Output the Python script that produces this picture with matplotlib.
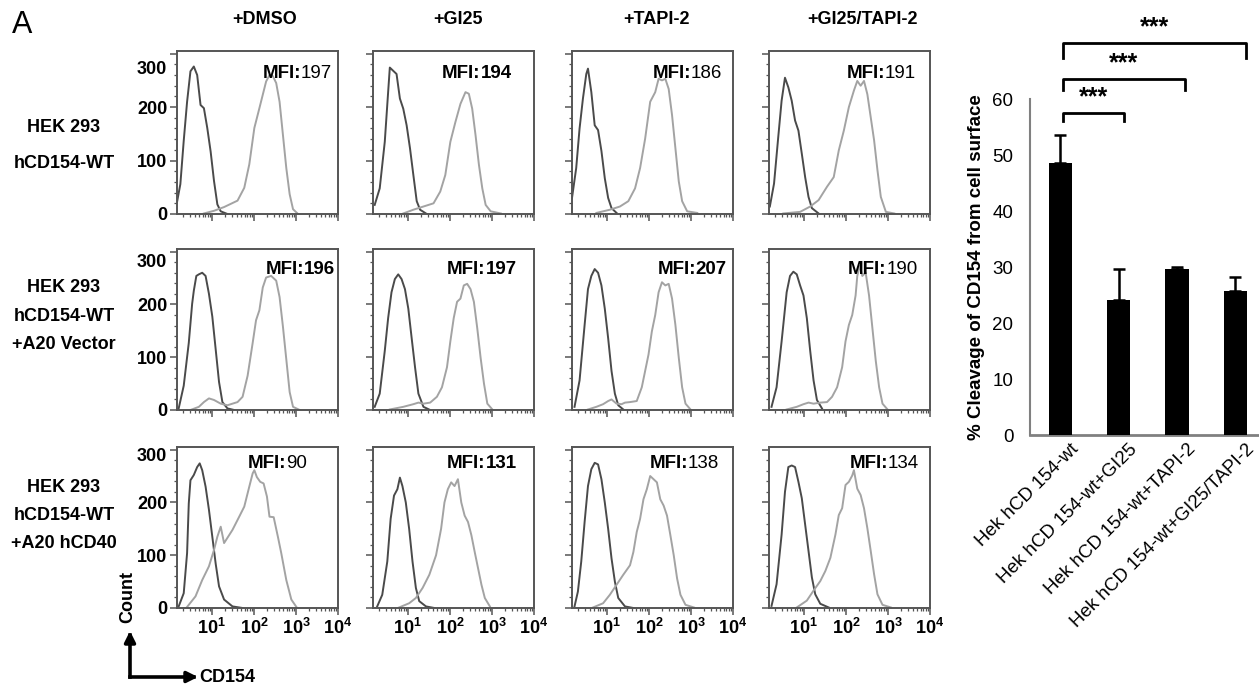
import numpy as np
import matplotlib
matplotlib.use('Agg')
import matplotlib.pyplot as plt
from matplotlib.transforms import ScaledTranslation
from matplotlib.patches import FancyArrowPatch
from matplotlib.lines import Line2D

plt.rcParams['font.family'] = ['Liberation Sans', 'DejaVu Sans']
plt.rcParams['mathtext.fontset'] = 'custom'
plt.rcParams['mathtext.rm'] = 'Liberation Sans:bold'
plt.rcParams['mathtext.it'] = 'Liberation Sans:bold'
plt.rcParams['mathtext.bf'] = 'Liberation Sans:bold'

# ---------------- data ----------------
conditions = ['+DMSO', '+GI25', '+TAPI-2', '+GI25/TAPI-2']
row_labels = [['HEK 293', 'hCD154-WT'],
              ['HEK 293', 'hCD154-WT', '+A20 Vector'],
              ['HEK 293', 'hCD154-WT', '+A20 hCD40']]
mfi_values = [[197, 194, 186, 191],
              [196, 197, 207, 190],
              [90, 131, 138, 134]]
mfi_bold_number = [[False, True, False, False],
                   [True, True, True, False],
                   [False, True, False, False]]
count_ticks = [0, 100, 200, 300]
decade_ticks = [1, 2, 3, 4]

# histograms: (log10 CD154 intensity, count); ctrl = dark curve, stain = light curve
r1_dmso_ctrl = [(0.17, 22), (0.25, 56), (0.33, 137), (0.41, 210), (0.49, 267), (0.57, 276), (0.65, 260), (0.73, 204), (0.81, 198), (0.89, 161), (0.97, 117), (1.05, 62), (1.13, 18), (1.21, 5), (1.37, 0)]
r1_dmso_stain = [(0.81, 1), (1.05, 6), (1.29, 13), (1.61, 25), (1.77, 49), (1.89, 93), (2.01, 161), (2.13, 198), (2.21, 223), (2.29, 248), (2.37, 260), (2.45, 258), (2.53, 245), (2.61, 210), (2.69, 148), (2.77, 86), (2.85, 37), (2.93, 9), (3.05, 0)]
r1_gi25_ctrl = [(0.21, 17), (0.33, 48), (0.45, 135), (0.53, 228), (0.57, 274), (0.65, 268), (0.73, 262), (0.81, 216), (0.89, 197), (0.97, 166), (1.05, 123), (1.13, 73), (1.21, 24), (1.29, 8), (1.45, 0)]
r1_gi25_stain = [(0.89, 1), (1.13, 8), (1.37, 14), (1.61, 20), (1.77, 42), (1.89, 73), (2.01, 135), (2.13, 172), (2.25, 206), (2.37, 228), (2.45, 225), (2.53, 197), (2.61, 147), (2.69, 92), (2.77, 48), (2.85, 17), (2.97, 5), (3.21, 1)]
r1_tapi_ctrl = [(0.17, 30), (0.27, 86), (0.35, 160), (0.43, 216), (0.51, 262), (0.55, 272), (0.63, 228), (0.71, 166), (0.79, 157), (0.87, 118), (0.95, 67), (1.03, 30), (1.11, 11), (1.23, 2)]
r1_tapi_stain = [(0.75, 2), (1.07, 8), (1.31, 14), (1.51, 24), (1.67, 48), (1.79, 86), (1.91, 141), (2.03, 210), (2.15, 228), (2.23, 253), (2.31, 250), (2.39, 253), (2.47, 234), (2.55, 185), (2.63, 123), (2.71, 61), (2.79, 24), (2.91, 5), (3.15, 2)]
r1_combo_ctrl = [(0.19, 14), (0.29, 57), (0.39, 144), (0.47, 212), (0.55, 255), (0.63, 237), (0.71, 212), (0.79, 175), (0.87, 156), (0.95, 113), (1.03, 69), (1.11, 32), (1.19, 11), (1.35, 1)]
r1_combo_stain = [(0.51, 1), (0.91, 4), (1.15, 14), (1.35, 26), (1.55, 51), (1.71, 69), (1.83, 119), (1.95, 156), (2.07, 200), (2.19, 231), (2.27, 249), (2.35, 240), (2.43, 249), (2.51, 224), (2.59, 181), (2.67, 138), (2.75, 82), (2.83, 32), (2.95, 4), (3.15, 1)]

r2_dmso_ctrl = [(0.21, 3), (0.33, 46), (0.45, 127), (0.53, 201), (0.57, 226), (0.63, 254), (0.69, 257), (0.77, 260), (0.85, 254), (0.93, 220), (1.01, 177), (1.09, 115), (1.17, 53), (1.25, 15), (1.37, 3), (1.53, 0)]
r2_dmso_stain = [(0.49, 0), (0.69, 6), (0.81, 15), (0.93, 22), (1.05, 19), (1.21, 12), (1.37, 9), (1.49, 12), (1.61, 15), (1.73, 25), (1.85, 65), (1.97, 127), (2.05, 170), (2.13, 189), (2.21, 232), (2.29, 251), (2.41, 254), (2.53, 245), (2.61, 214), (2.69, 158), (2.77, 96), (2.85, 34), (2.93, 6), (3.09, 0)]
r2_gi25_ctrl = [(0.21, 6), (0.33, 31), (0.45, 112), (0.53, 174), (0.61, 223), (0.69, 248), (0.77, 257), (0.85, 248), (0.93, 229), (1.01, 192), (1.09, 136), (1.17, 81), (1.25, 31), (1.37, 6), (1.53, 0)]
r2_gi25_stain = [(0.57, 1), (0.89, 6), (1.13, 11), (1.25, 14), (1.37, 12), (1.53, 14), (1.69, 25), (1.81, 43), (1.93, 81), (2.01, 130), (2.09, 174), (2.17, 205), (2.25, 211), (2.33, 236), (2.41, 239), (2.49, 229), (2.57, 205), (2.65, 155), (2.73, 99), (2.81, 50), (2.89, 12), (3.01, 1)]
r2_tapi_ctrl = [(0.23, 6), (0.35, 56), (0.47, 161), (0.55, 229), (0.63, 254), (0.71, 267), (0.79, 260), (0.87, 236), (0.95, 192), (1.03, 136), (1.11, 74), (1.19, 31), (1.27, 9), (1.39, 1)]
r2_tapi_stain = [(0.55, 1), (0.75, 6), (0.91, 11), (1.03, 17), (1.11, 20), (1.23, 12), (1.35, 11), (1.43, 14), (1.55, 15), (1.71, 17), (1.83, 43), (1.91, 74), (1.99, 105), (2.07, 149), (2.15, 180), (2.23, 223), (2.31, 242), (2.39, 236), (2.47, 239), (2.55, 211), (2.63, 161), (2.71, 99), (2.79, 43), (2.87, 12), (2.99, 1)]
r2_combo_ctrl = [(0.23, 6), (0.35, 43), (0.47, 130), (0.59, 223), (0.67, 254), (0.75, 262), (0.83, 257), (0.91, 236), (0.99, 217), (1.07, 174), (1.15, 112), (1.23, 56), (1.31, 19), (1.43, 3)]
r2_combo_stain = [(0.59, 1), (0.83, 6), (0.99, 11), (1.11, 14), (1.23, 12), (1.39, 14), (1.55, 15), (1.67, 25), (1.79, 43), (1.91, 81), (1.99, 130), (2.07, 161), (2.15, 180), (2.23, 217), (2.27, 254), (2.33, 273), (2.39, 254), (2.47, 260), (2.55, 217), (2.63, 155), (2.71, 93), (2.79, 43), (2.87, 12), (2.99, 1)]

r3_dmso_ctrl = [(0.21, 3), (0.33, 28), (0.41, 104), (0.45, 198), (0.49, 242), (0.57, 252), (0.65, 267), (0.71, 274), (0.77, 261), (0.85, 230), (0.93, 186), (1.01, 135), (1.09, 84), (1.17, 41), (1.29, 16), (1.49, 3), (1.73, 0)]
r3_dmso_stain = [(0.41, 2), (0.61, 22), (0.77, 53), (0.93, 79), (1.05, 110), (1.13, 135), (1.21, 154), (1.29, 123), (1.49, 148), (1.65, 173), (1.77, 192), (1.89, 230), (1.97, 255), (2.01, 261), (2.07, 248), (2.15, 239), (2.23, 236), (2.31, 211), (2.37, 173), (2.47, 172), (2.57, 135), (2.65, 104), (2.77, 53), (2.89, 16), (3.01, 2)]
r3_gi25_ctrl = [(0.27, 3), (0.39, 25), (0.51, 88), (0.59, 169), (0.67, 213), (0.75, 225), (0.81, 247), (0.87, 231), (0.95, 200), (1.03, 150), (1.11, 88), (1.19, 38), (1.27, 13), (1.43, 3), (1.63, 0)]
r3_gi25_stain = [(0.79, 1), (1.03, 9), (1.19, 19), (1.35, 38), (1.51, 63), (1.67, 100), (1.79, 150), (1.87, 200), (1.95, 225), (2.03, 238), (2.11, 231), (2.19, 244), (2.27, 200), (2.35, 175), (2.43, 163), (2.51, 138), (2.59, 106), (2.67, 75), (2.75, 44), (2.83, 19), (2.95, 3)]
r3_tapi_ctrl = [(0.23, 3), (0.31, 31), (0.39, 88), (0.47, 163), (0.55, 231), (0.63, 263), (0.71, 275), (0.79, 272), (0.87, 244), (0.95, 200), (1.03, 150), (1.11, 94), (1.19, 50), (1.27, 19), (1.43, 3), (1.63, 0)]
r3_tapi_stain = [(0.67, 1), (0.91, 9), (1.07, 25), (1.23, 44), (1.39, 63), (1.55, 81), (1.63, 106), (1.71, 144), (1.79, 169), (1.87, 206), (1.95, 225), (2.03, 250), (2.11, 244), (2.19, 238), (2.27, 206), (2.35, 194), (2.43, 175), (2.51, 138), (2.59, 100), (2.67, 56), (2.75, 25), (2.87, 6), (3.07, 1)]
r3_combo_ctrl = [(0.23, 4), (0.35, 45), (0.47, 139), (0.55, 220), (0.63, 267), (0.71, 270), (0.79, 267), (0.87, 239), (0.95, 208), (1.03, 158), (1.11, 108), (1.19, 58), (1.27, 26), (1.39, 8), (1.59, 1)]
r3_combo_stain = [(0.83, 1), (1.07, 14), (1.23, 33), (1.39, 51), (1.51, 70), (1.63, 95), (1.75, 139), (1.83, 176), (1.91, 189), (1.99, 233), (2.07, 239), (2.15, 251), (2.19, 261), (2.27, 226), (2.35, 214), (2.43, 189), (2.51, 151), (2.59, 108), (2.67, 64), (2.75, 26), (2.87, 6), (3.07, 1)]

ctrl_curves = [[r1_dmso_ctrl, r1_gi25_ctrl, r1_tapi_ctrl, r1_combo_ctrl],
               [r2_dmso_ctrl, r2_gi25_ctrl, r2_tapi_ctrl, r2_combo_ctrl],
               [r3_dmso_ctrl, r3_gi25_ctrl, r3_tapi_ctrl, r3_combo_ctrl]]
stain_curves = [[r1_dmso_stain, r1_gi25_stain, r1_tapi_stain, r1_combo_stain],
                [r2_dmso_stain, r2_gi25_stain, r2_tapi_stain, r2_combo_stain],
                [r3_dmso_stain, r3_gi25_stain, r3_tapi_stain, r3_combo_stain]]

# bar chart
bar_labels = ['Hek hCD 154-wt', 'Hek hCD 154-wt+GI25', 'Hek hCD 154-wt+TAPI-2',
              'Hek hCD 154-wt+GI25/TAPI-2']
cleavage = [48.5, 24.1, 29.7, 25.7]
cleavage_err = [5.0, 5.6, 0.3, 2.6]
comparisons = [(0, 1), (0, 2), (0, 3)]
comparison_marks = ['***', '***', '***']

# ---------------- layout ----------------
W, H = 1259, 687
fig = plt.figure(figsize=(W / 100, H / 100), dpi=100)


def fx(px):
    return px / W


def fy(py):
    return 1 - py / H


col_left = [177, 373, 572, 769]
col_w = 161
row_top = [51, 249, 447]
row_bot = [214, 410, 608]
mfi_x = [[0.53, 0.43, 0.50, 0.48], [0.55, 0.46, 0.53, 0.49], [0.44, 0.46, 0.48, 0.50]]
mfi_y = [0.86, 0.875, 0.895]
label300_shift = [14, 9, 5]
frame_col = '#555555'
dark_col = '#4a4a4a'
light_col = '#a3a3a3'

for r in range(3):
    for c in range(4):
        ax = fig.add_axes([fx(col_left[c]), fy(row_bot[r]), fx(col_w),
                           (row_bot[r] - row_top[r]) / H])
        for curve, col in ((ctrl_curves[r][c], dark_col), (stain_curves[r][c], light_col)):
            lx, cy = zip(*curve)
            ax.plot(np.power(10.0, lx), cy, color=col, lw=1.4, solid_joinstyle='round')
        ax.set_xscale('log')
        ax.set_xlim(10 ** 0.17, 10 ** 4)
        ax.set_ylim(0, 305)
        for s in ax.spines.values():
            s.set_color(frame_col)
            s.set_linewidth(1.4)
        ax.set_xticks([10.0 ** d for d in decade_ticks])
        ax.set_xticks([m * 10.0 ** d for d in range(0, 4) for m in range(2, 10)], minor=True)
        ax.set_yticks(count_ticks)
        ax.set_yticks(np.arange(0, 305, 20), minor=True)
        ax.tick_params(axis='both', which='major', direction='out', length=5, width=1.1,
                       color=frame_col, pad=2)
        ax.tick_params(axis='both', which='minor', direction='out', length=2.5, width=0.9,
                       color=frame_col)
        ax.tick_params(axis='x', which='both', top=False)
        ax.tick_params(axis='y', which='both', right=False)
        ax.xaxis.set_minor_formatter(plt.NullFormatter())
        if r == 2:
            ax.set_xticklabels([r'$10^{%d}$' % d for d in decade_ticks], fontsize=13)
        else:
            ax.set_xticklabels([])
        if c == 0:
            ax.set_yticklabels([str(v) for v in count_ticks], fontsize=13,
                               fontweight='bold')
            lab = ax.get_yticklabels()[-1]
            lab.set_transform(lab.get_transform() +
                              ScaledTranslation(0, -label300_shift[r] / 100, fig.dpi_scale_trans))
        else:
            ax.set_yticklabels([])
        t1 = ax.text(mfi_x[r][c], mfi_y[r], 'MFI:', transform=ax.transAxes,
                     fontsize=13.5, fontweight='bold', ha='left', va='center', zorder=5)
        ax.annotate(str(mfi_values[r][c]), xy=(1, 0), xycoords=t1, va='bottom', ha='left',
                    fontsize=13.5, fontweight='bold' if mfi_bold_number[r][c] else 'normal',
                    zorder=5)

# column titles
title_x = [265, 458, 657, 862]
for c in range(4):
    fig.text(fx(title_x[c]), fy(20), conditions[c], fontsize=13, fontweight='bold',
             ha='center', va='center')

# row labels
row_label_y = [[127, 164], [288, 317, 345], [487, 515, 543]]
for r in range(3):
    for k, t in enumerate(row_labels[r]):
        fig.text(fx(64), fy(row_label_y[r][k]), t, fontsize=13, fontweight='bold',
                 ha='center', va='center')

fig.text(fx(12), fy(25), 'A', fontsize=22, ha='left', va='center')

# Count / CD154 arrows
corner = (fx(130), fy(677))
fig.add_artist(FancyArrowPatch(corner, (fx(130), fy(631)), transform=fig.transFigure,
                               arrowstyle='-|>', mutation_scale=16, lw=2.6, color='black',
                               shrinkA=0, shrinkB=0, capstyle='projecting'))
fig.add_artist(FancyArrowPatch(corner, (fx(198), fy(677)), transform=fig.transFigure,
                               arrowstyle='-|>', mutation_scale=16, lw=2.6, color='black',
                               shrinkA=0, shrinkB=0, capstyle='projecting'))
fig.text(fx(128), fy(597), 'Count', rotation=90, fontsize=13, fontweight='bold',
         ha='center', va='center')
fig.text(fx(199), fy(677), 'CD154', fontsize=13, fontweight='bold', ha='left',
         va='center')

# ---------------- bar chart ----------------
axb = fig.add_axes([fx(1030), fy(435), fx(1258 - 1030), (435 - 99) / H])
xpos = np.arange(len(cleavage))
axb.bar(xpos, cleavage, width=0.4, color='black', zorder=3)
axb.errorbar(xpos, cleavage, yerr=[np.zeros(len(cleavage)), cleavage_err], fmt='none',
             ecolor='black', elinewidth=1.8, capsize=4.5, capthick=1.8, zorder=2)
axb.set_xlim(-0.52, 3.39)
axb.set_ylim(0, 60)
axb.set_yticks(np.arange(0, 61, 10))
axb.tick_params(axis='y', length=0, pad=12, labelsize=13.5)
axb.tick_params(axis='x', length=0, pad=4)
for side in ('top', 'right'):
    axb.spines[side].set_visible(False)
axb.spines['left'].set_color('#808080')
axb.spines['left'].set_linewidth(1.5)
axb.spines['bottom'].set_color('#808080')
axb.spines['bottom'].set_linewidth(2)
axb.set_xticks(xpos)
axb.set_xticklabels(bar_labels, rotation=45, ha='right', va='top', rotation_mode='anchor',
                    fontsize=13.5)
for lab in axb.get_xticklabels():
    lab.set_transform(lab.get_transform() + ScaledTranslation(0.1, 0, fig.dpi_scale_trans))
axb.set_ylabel('% Cleavage of CD154 from cell surface', fontsize=13.5, fontweight='bold',
               labelpad=5)

bracket_y = [57.5, 63.6, 70.0]
bracket_leg = [1.4, 2.0, 2.7]
bracket_right = [0.1, 0.13, 0.19]
for k, (i, j) in enumerate(comparisons):
    x0, x1 = xpos[i] + 0.05, xpos[j] + bracket_right[k]
    y = bracket_y[k]
    axb.add_line(Line2D([x0, x0, x1, x1], [y - bracket_leg[k], y, y, y - bracket_leg[k]],
                        color='black', lw=2, clip_on=False))
    axb.text((x0 + x1) / 2, y + 0.6, comparison_marks[k], ha='center', va='bottom',
             fontsize=18, fontweight='bold', clip_on=False)

fig.savefig('out.png', dpi=100)
